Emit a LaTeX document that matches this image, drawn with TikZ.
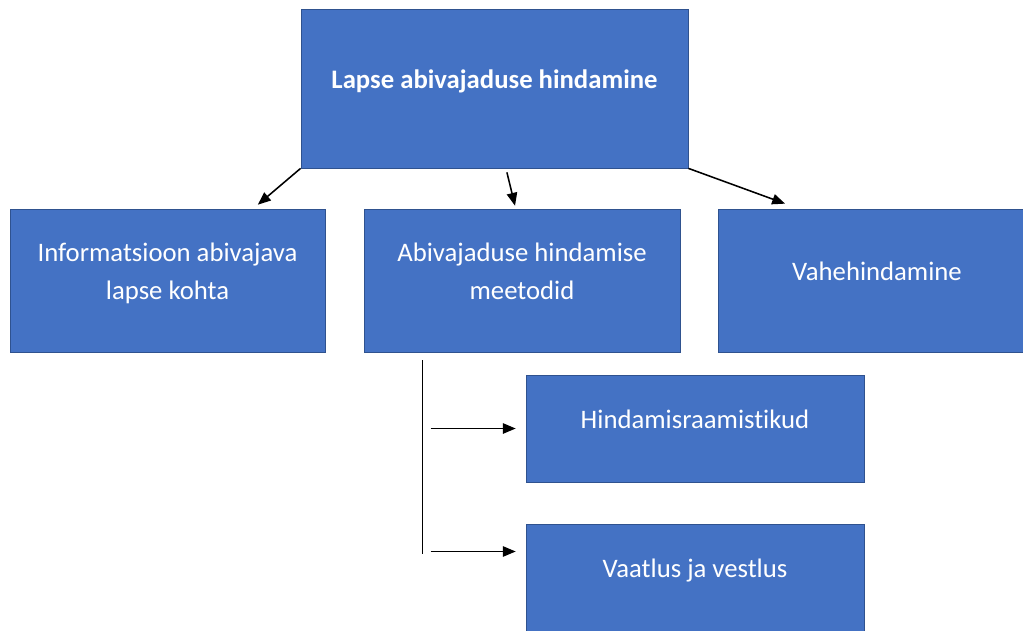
\documentclass[tikz,border=0pt]{standalone}
\usepackage{fontspec}
\setmainfont{Carlito}[Ligatures=NoCommon]
\usetikzlibrary{arrows,positioning,calc}
\definecolor{boxblue}{HTML}{4472C4}
\definecolor{boxedge}{HTML}{2F528F}
\tikzset{
  box/.style={draw=boxedge,line width=0.5pt,fill=boxblue,text=white,align=center,
    font=\fontsize{19}{27}\selectfont,text depth=0.45cm},
  arr/.style={->,>=triangle 45,line width=1.1pt}
}

\begin{document}
\begin{tikzpicture}[x=0.025cm,y=-0.025cm]
   \useasboundingbox (0,0) rectangle (1023,630);
   \node[box,minimum width=9.675cm,minimum height=3.975cm] (top) at (494.5,88.5) {\textbf{Lapse abivajaduse hindamine}};
   \node[box,minimum width=7.875cm,minimum height=3.575cm] (info) at (167.5,280.5) {Informatsioon abivajava\\lapse kohta};
   \node[box,minimum width=7.9cm,minimum height=3.575cm] (meth) at (522,280.5) {Abivajaduse hindamise\\meetodid};
   \node[box,minimum width=7.95cm,minimum height=3.575cm] (vahe) at (877,280.5) {Vahehindamine};
   \node[box,minimum width=8.45cm,minimum height=2.675cm] (raam) at (695,428.5) {Hindamisraamistikud};
   \node[box,minimum width=8.45cm,minimum height=2.675cm] (vaat) at (695,577.5) {Vaatlus ja vestlus};

   \draw[arr] (top.south west) -- ([xshift=2.26cm,yshift=0.1cm]info.north);
   \draw[arr] ([xshift=0.31cm,yshift=-0.1cm]top.south) -- ([xshift=-0.175cm,yshift=0.075cm]meth.north);
   \draw[arr] (top.south east) -- ([xshift=-2.3cm,yshift=0.125cm]vahe.north);

   \coordinate (trunk) at ([xshift=1.475cm,yshift=-0.2cm]meth.south west);
   \coordinate (vaatin) at ([yshift=0.65cm]vaat.west);
   \draw[line width=1.1pt] (trunk) -- ([yshift=-0.07cm]trunk |- vaatin);
   \draw[arr,shorten >=0.25cm] ([xshift=0.2cm]trunk |- raam.west) -- (raam.west);
   \draw[arr,shorten >=0.25cm] ([xshift=0.2cm]trunk |- vaatin) -- (vaatin);
\end{tikzpicture}
\end{document}
